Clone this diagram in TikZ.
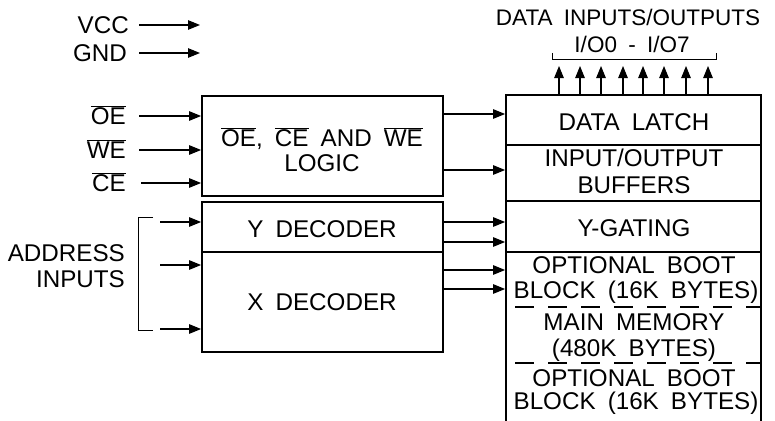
\documentclass[tikz,border=0pt]{standalone}
\usepackage{fontspec}
\setmainfont[WordSpace=1.8]{Liberation Sans}
\usetikzlibrary{arrows.meta}
\newcommand{\ovl}[1]{$\overline{\hbox{#1}}$}
\tikzset{
  txt/.style={inner sep=0pt, anchor=base, font=\fontsize{24.2}{27}\selectfont},
  ttxt/.style={inner sep=0pt, anchor=base, font=\fontsize{22.5}{25}\selectfont},
  rtxt/.style={txt, anchor=base east},
  blk/.style={draw, line width=1.8pt, inner sep=0pt},
  arr/.style={line width=1.1pt, -{Triangle[length=12pt,width=9.5pt]}},
  brk/.style={line width=0.8pt},
  dsh/.style={line width=1.3pt, dash pattern=on 19pt off 14pt, dash phase=-10pt}
}
\begin{document}
\begin{tikzpicture}[x=1pt,y=-1pt]
\useasboundingbox (0,0) rectangle (775,420);
% boxes
\node[blk, minimum width=241pt, minimum height=100pt] (logic) at (322.5,146) {};
\node[blk, minimum width=241pt, minimum height=50pt] (ydec) at (322.5,227) {};
\node[blk, minimum width=241pt, minimum height=100pt] (xdec) at (322.5,302) {};
\node[blk, minimum width=255pt, minimum height=50pt] (latch) at (633.5,120) {};
\node[blk, minimum width=255pt, minimum height=56pt] (buf) at (633.5,173) {};
\node[blk, minimum width=255pt, minimum height=51pt] (ygate) at (633.5,226.5) {};
\node[blk, minimum width=255pt, minimum height=190pt] (mem) at (633.5,347) {};
% dashed separators
\coordinate (d1) at (0,307);
\coordinate (d2) at (0,363);
\draw[dsh] (mem.west |- d1) -- (mem.east |- d1);
\draw[dsh] (mem.west |- d2) -- (mem.east |- d2);
% box texts
\node[txt] (t1) at (322,146.5) {\ovl{OE}, \ovl{CE} AND \ovl{WE}};
\node[txt] (t2) at (322,171.5) {LOGIC};
\node[txt] (t3) at (322,237.5) {Y DECODER};
\node[txt] (t4) at (322,310.5) {X DECODER};
\node[txt] (t5) at (634,130.5) {DATA LATCH};
\node[txt] (t6) at (634,166.5) {INPUT/OUTPUT};
\node[txt] (t7) at (634,193.5) {BUFFERS};
\node[txt] (t8) at (634,236.5) {Y-GATING};
\node[txt] (t9) at (634,273.5) {OPTIONAL BOOT};
\node[txt] (t10) at (636,298.5) {BLOCK (16K BYTES)};
\node[txt] (t11) at (634,330.5) {MAIN MEMORY};
\node[txt] (t12) at (634,356.5) {(480K BYTES)};
\node[txt] (t13) at (634,386.5) {OPTIONAL BOOT};
\node[txt] (t14) at (636,409.5) {BLOCK (16K BYTES)};
% top labels
\node[ttxt] (top1) at (628,25.5) {DATA INPUTS/OUTPUTS};
\node[ttxt] (top2) at (632,52.5) {I/O0 - I/O7};
% left labels
\node[rtxt] (vcc) at (129,33.5) {VCC};
\node[rtxt] (gnd) at (127,61.5) {GND};
\node[rtxt] (oe) at (126,124.5) {\ovl{OE}};
\node[rtxt] (we) at (126,158.5) {\ovl{WE}};
\node[rtxt] (ce) at (126,191.5) {\ovl{CE}};
\node[rtxt] (addr1) at (125,261.5) {ADDRESS};
\node[rtxt] (addr2) at (125,287) {INPUTS};
% left arrows
\coordinate (vccs) at (139,25);
\coordinate (vcce) at (200,25);
\coordinate (gnds) at (139,53);
\coordinate (gnde) at (200,53);
\draw[arr] (vccs) -- (vcce);
\draw[arr] (gnds) -- (gnde);
\coordinate (oes) at (139,116);
\coordinate (wes) at (139,150);
\coordinate (ces) at (141,183);
\draw[arr] (oes) -- (logic.west |- oes);
\draw[arr] (wes) -- (logic.west |- wes);
\draw[arr] (ces) -- (logic.west |- ces);
\coordinate (a1) at (160,222);
\coordinate (a2) at (160,265);
\coordinate (a3) at (160,329);
\draw[arr] (a1) -- (ydec.west |- a1);
\draw[arr] (a2) -- (xdec.west |- a2);
\draw[arr] (a3) -- (xdec.west |- a3);
\coordinate (bt) at (138,217);
\coordinate (bb) at (138,330);
\draw[brk] ([xshift=15pt]bt) -- (bt) -- (bb) -- ([xshift=15pt]bb);
% middle arrows
\coordinate (m1) at (0,114);
\coordinate (m2) at (0,170);
\coordinate (m3) at (0,222);
\coordinate (m4) at (0,242);
\coordinate (m5) at (0,270);
\coordinate (m6) at (0,289);
\draw[arr] (logic.east |- m1) -- (latch.west |- m1);
\draw[arr] (logic.east |- m2) -- (buf.west |- m2);
\draw[arr] (ydec.east |- m3) -- (ygate.west |- m3);
\draw[arr] (ydec.east |- m4) -- (ygate.west |- m4);
\draw[arr] (xdec.east |- m5) -- (mem.west |- m5);
\draw[arr] (xdec.east |- m6) -- (mem.west |- m6);
% top arrows
\foreach \i/\x in {1/559,2/580,3/601,4/623,5/643,6/664,7/686,8/708}{
  \coordinate (io\i) at (\x,66);
  \draw[arr] (latch.north -| io\i) -- (io\i);
}
\coordinate (tbl) at (552,59);
\coordinate (tbr) at (716,59);
\draw[brk] ([yshift=6pt]tbl) -- (tbl) -- (tbr) -- ([yshift=6pt]tbr);
\end{tikzpicture}
\end{document}
